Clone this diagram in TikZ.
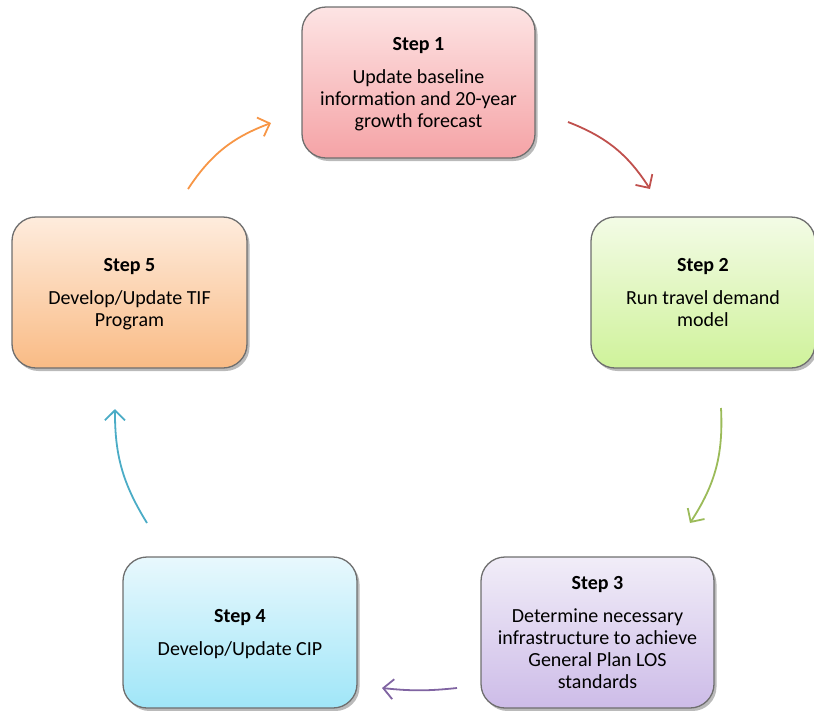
\documentclass[tikz,border=0pt]{standalone}
\usepackage{fontspec}
\setmainfont{Carlito}
\usetikzlibrary{arrows.meta,shadows}
\definecolor{bordergray}{HTML}{6E6E6E}
\definecolor{aRed}{HTML}{C0504D}
\definecolor{aGreen}{HTML}{9BBB59}
\definecolor{aPurple}{HTML}{8064A2}
\definecolor{aTeal}{HTML}{4BACC6}
\definecolor{aOrange}{HTML}{F79646}
\definecolor{t1}{HTML}{FDE4E4}\definecolor{b1}{HTML}{F5A3A6}
\definecolor{t2}{HTML}{F3FBE6}\definecolor{b2}{HTML}{CFF29A}
\definecolor{t3}{HTML}{F1EDF8}\definecolor{b3}{HTML}{CDBCE8}
\definecolor{t4}{HTML}{E8F8FD}\definecolor{b4}{HTML}{A0E6F8}
\definecolor{t5}{HTML}{FEECDD}\definecolor{b5}{HTML}{F9BB85}
\begin{document}
\begin{tikzpicture}[x=1pt,y=-1pt,
  stepbox/.style={draw=bordergray, line width=1.3pt, rounded corners=24pt,
    align=center, inner sep=0pt, text depth=0pt,
    font=\fontsize{20}{22}\selectfont,
    drop shadow={shadow xshift=2.5pt, shadow yshift=-3pt, opacity=0.45, fill=black!60}},
  cyc/.style={line width=1.8pt, -{Straight Barb[length=10pt,width=20pt,line width=1.8pt]}}
]
\useasboundingbox (0,0) rectangle (814,710);

\node[stepbox, minimum width=233pt, minimum height=151pt, top color=t1, bottom color=b1]
  (s1) at (418.5,82.5) {\textbf{Step 1}\\[11pt]Update baseline\\information and 20-year\\growth forecast};
\node[stepbox, minimum width=224pt, minimum height=151pt, top color=t2, bottom color=b2]
  (s2) at (703,292.5) {\textbf{Step 2}\\[11pt]Run travel demand\\model};
\node[stepbox, minimum width=233pt, minimum height=151pt, top color=t3, bottom color=b3]
  (s3) at (597.5,632.5) {\textbf{Step 3}\\[11pt]Determine necessary\\infrastructure to achieve\\General Plan LOS\\standards};
\node[stepbox, minimum width=234pt, minimum height=151pt, top color=t4, bottom color=b4]
  (s4) at (240,632.5) {\textbf{Step 4}\\[11pt]Develop/Update CIP};
\node[stepbox, minimum width=235pt, minimum height=151pt, top color=t5, bottom color=b5]
  (s5) at (129.5,292.5) {\textbf{Step 5}\\[11pt]Develop/Update TIF\\Program};

\coordinate (a1s) at (568,122); \coordinate (a1e) at (650,189);
\coordinate (a2s) at (721,408); \coordinate (a2e) at (690,523);
\coordinate (a3s) at (457,688); \coordinate (a3e) at (382,688);
\coordinate (a4s) at (147,523); \coordinate (a4e) at (115,409);
\coordinate (a5s) at (188,189); \coordinate (a5e) at (271,123);

\draw[cyc, aRed] (a1s) to[bend left=18] (a1e);
\draw[cyc, aGreen] (a2s) to[bend left=18] (a2e);
\draw[cyc, aPurple] (a3s) to[bend left=6] (a3e);
\draw[cyc, aTeal] (a4s) to[bend left=16] (a4e);
\draw[cyc, aOrange] (a5s) to[bend left=18] (a5e);
\end{tikzpicture}
\end{document}
